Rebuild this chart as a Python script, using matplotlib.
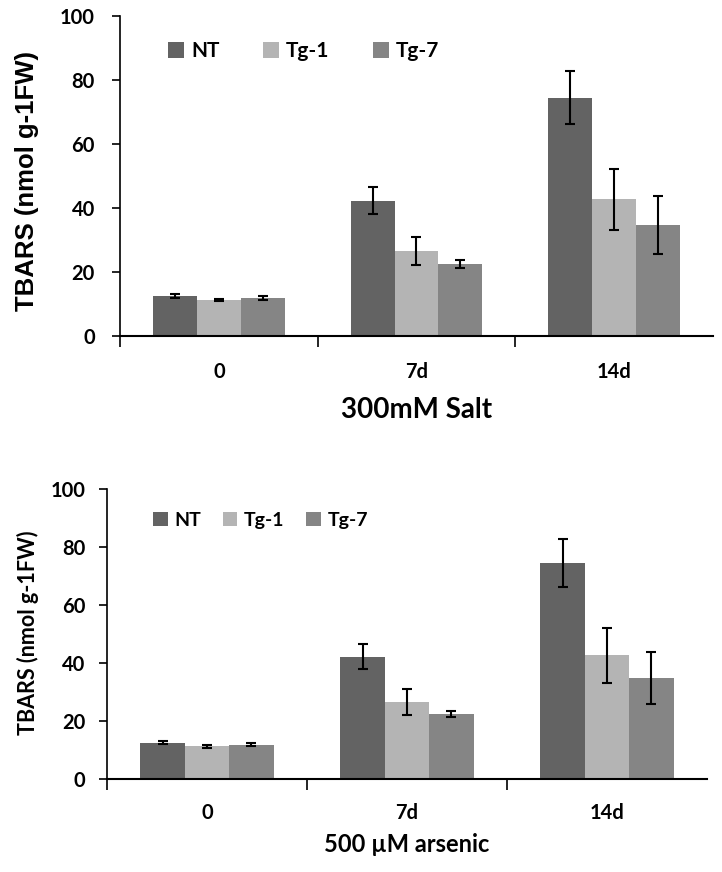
import numpy as np
import matplotlib
matplotlib.use("Agg")
import matplotlib.pyplot as plt

categories = ["0", "7d", "14d"]
series = ["NT", "Tg-1", "Tg-7"]
nt = [12.5, 42.2, 74.5]
nt_err = [0.5, 4.2, 8.3]
tg1 = [11.2, 26.5, 42.7]
tg1_err = [0.4, 4.4, 9.5]
tg7 = [11.8, 22.4, 34.7]
tg7_err = [0.6, 1.2, 9.0]
colors = ["#636363", "#b4b4b4", "#858585"]

values = [nt, tg1, tg7]
errors = [nt_err, tg1_err, tg7_err]


def draw(ax, xlabel, xlab_size, xlab_y, ypad, xpad, leg_size, leg_spacing, leg_pos):
    x = np.arange(len(categories))
    w = 0.222
    for i, (v, e, c, name) in enumerate(zip(values, errors, colors, series)):
        ax.bar(x + (i - 1) * w, v, w, color=c, label=name,
               yerr=e, capsize=3.5, error_kw=dict(elinewidth=1.5, capthick=1.5, ecolor="black"))
    ax.set_xlim(-0.5, 2.5)
    ax.set_ylim(0, 100)
    ax.set_yticks(range(0, 101, 20))
    ax.set_xticks(x)
    ax.set_xticklabels(categories)
    ax.set_xticks([-0.5, 0.5, 1.5], minor=True)
    ax.tick_params(axis="x", which="major", length=0, pad=xpad, labelsize=14.5)
    ax.tick_params(axis="x", which="minor", length=8, width=1.2, direction="out")
    ax.tick_params(axis="y", length=6, width=1.2, pad=ypad, labelsize=14.5)
    for lab in ax.get_xticklabels() + ax.get_yticklabels():
        lab.set_fontweight("bold")
        lab.set_family("Lato")
    for s in ["top", "right"]:
        ax.spines[s].set_visible(False)
    ax.spines["left"].set_linewidth(1.2)
    ax.spines["bottom"].set_linewidth(1.5)
    ax.set_xlabel(xlabel, fontsize=xlab_size, fontweight="bold", family="Lato")
    ax.xaxis.set_label_coords(0.5, xlab_y)
    ax.legend(loc="center left", bbox_to_anchor=leg_pos, ncol=3, frameon=False,
              prop=dict(family="Lato", weight="bold", size=leg_size),
              borderpad=0, borderaxespad=0,
              handlelength=0.75, handleheight=0.75, handletextpad=0.35,
              columnspacing=leg_spacing)


fig = plt.figure(figsize=(7.22, 8.72), dpi=100)
ax1 = fig.add_axes([0.1662, 0.6147, 0.8213, 0.367])
ax2 = fig.add_axes([0.1482, 0.1067, 0.831, 0.3325])

draw(ax1, "300mM Salt", 20, -0.19, 12, 19, 15, 2.1, (0.081, 0.89))
draw(ax2, "500 \u00b5M arsenic", 17, -0.185, 9.5, 17, 14, 1.1, (0.077, 0.891))

fig.text(0.037, 0.7924, "TBARS (nmol g-1FW)", rotation=90, ha="center", va="center",
         fontsize=18.5, fontweight="bold", family="Liberation Sans")
fig.text(0.039, 0.274, "TBARS (nmol g-1FW)", rotation=90, ha="center", va="center",
         fontsize=15.5, fontweight="bold", family="Lato")

fig.savefig("out.png", dpi=100)
